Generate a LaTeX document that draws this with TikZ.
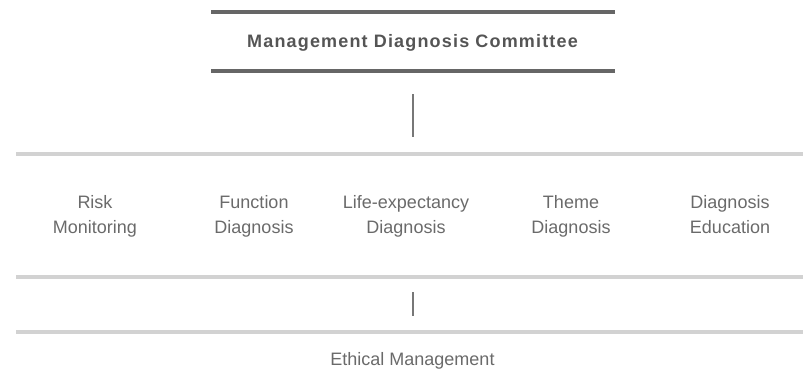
\documentclass[tikz,border=0pt]{standalone}
\usepackage{fontspec}
\setmainfont{Liberation Sans}
\newfontfamily\titlefont[LetterSpace=6.5]{Liberation Sans}
\definecolor{bardark}{HTML}{666666}
\definecolor{barlight}{HTML}{D2D2D2}
\definecolor{txt}{HTML}{6A6A6A}
\definecolor{titletxt}{HTML}{555555}
\definecolor{vline}{HTML}{777777}
\begin{document}
\begin{tikzpicture}[x=1pt,y=-1pt,
  darkbar/.style={draw=bardark,line width=4pt},
  lightbar/.style={draw=barlight,line width=4pt},
  conn/.style={draw=vline,line width=1.6pt},
  unit/.style={align=center,text=txt,font=\fontsize{18}{24.5}\selectfont,inner sep=0pt},
  titlebox/.style={text=titletxt,font=\fontsize{18}{21}\titlefont\bfseries,inner sep=0pt}]
\useasboundingbox (0,0) rectangle (803,386);
% committee
\draw[darkbar] (211,12) -- (615,12);
\node[titlebox] (title) at (412.5,43) {Management Diagnosis Committee};
\draw[darkbar] (211,70.5) -- (615,70.5);
\coordinate (c1a) at (413,94);
\coordinate (c1b) at (413,137);
\draw[conn] (c1a) -- (c1b);
% units
\draw[lightbar] (16,154) -- (803,154);
\node[unit] (risk) at (95,216) {Risk\strut\\Monitoring\strut};
\node[unit] (func) at (254,216) {Function\strut\\Diagnosis\strut};
\node[unit] (life) at (406,216) {Life-expectancy\strut\\Diagnosis\strut};
\node[unit] (theme) at (571,216) {Theme\strut\\Diagnosis\strut};
\node[unit] (edu) at (730,216) {Diagnosis\strut\\Education\strut};
\draw[lightbar] (16,277) -- (803,277);
\coordinate (c2a) at (413,292);
\coordinate (c2b) at (413,316);
\draw[conn] (c2a) -- (c2b);
\draw[lightbar] (16,332) -- (803,332);
\node[unit] (ethic) at (412.5,361) {Ethical Management\strut};
\end{tikzpicture}
\end{document}
